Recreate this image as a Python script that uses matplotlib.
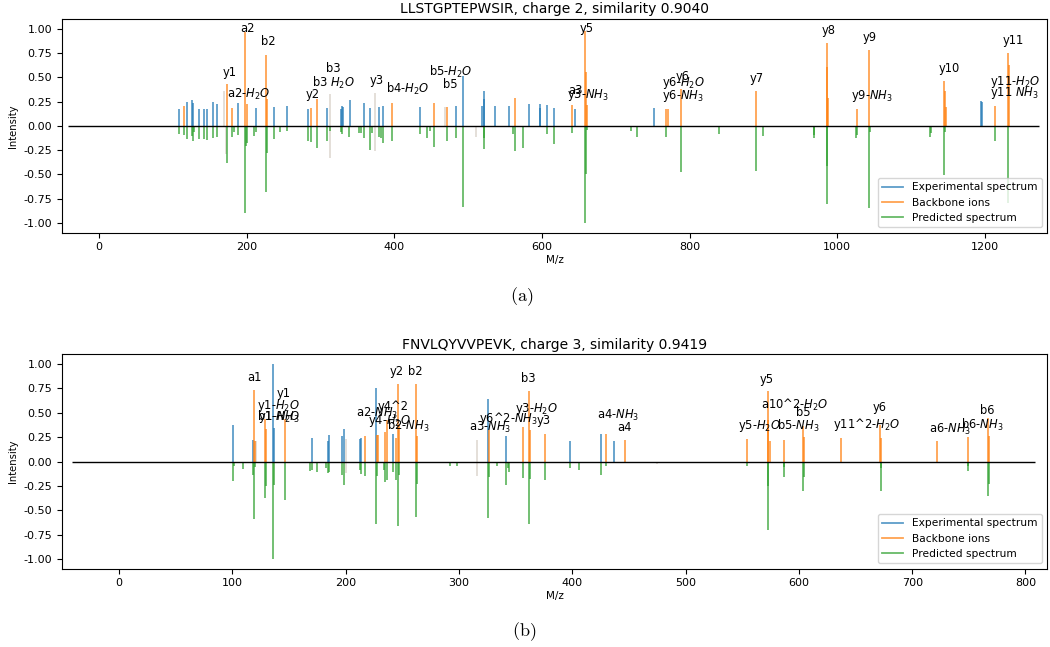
import matplotlib
matplotlib.use("Agg")
import matplotlib.pyplot as plt
from matplotlib.lines import Line2D

# ---------------- Panel (a) data ----------------
title_a = "LLSTGPTEPWSIR, charge 2, similarity 0.9040"
exp_a_mz = [108.3, 119.6, 125.5, 127.7, 135.0, 142.2, 146.2, 154.8, 160.2, 188.2, 212.6, 237.4,
            255.0, 283.0, 309.1, 327.7, 328.6, 330.8, 339.9, 358.8, 366.5, 378.7, 385.0, 434.2,
            483.0, 493.3, 518.6, 520.9, 521.7, 536.2, 555.1, 582.2, 596.7, 598.0, 606.6, 615.7,
            644.5, 752.4, 1195.2, 1196.1]
exp_a_int = [0.175, 0.243, 0.264, 0.233, 0.175, 0.175, 0.175, 0.243, 0.226, 0.237, 0.185, 0.195,
             0.209, 0.175, 0.185, 0.175, 0.206, 0.19, 0.267, 0.237, 0.185, 0.199, 0.209, 0.195,
             0.209, 0.511, 0.209, 0.36, 0.278, 0.209, 0.209, 0.23, 0.23, 0.185, 0.219, 0.185,
             0.175, 0.185, 0.26, 0.243]
bb_a_mz = [115.1, 173.3, 180.1, 197.7, 200.0, 226.6, 227.5, 287.1, 295.6, 396.7, 453.6, 471.2,
           563.3, 641.3, 658.1, 659.0, 660.8, 768.6, 770.4, 787.7, 889.3, 985.4, 986.7, 988.0,
           1026.4, 1043.6, 1144.2, 1145.5, 1146.9, 1213.7, 1231.8, 1233.1]
bb_a_int = [0.209, 0.432, 0.185, 0.970, 0.22, 0.730, 0.28, 0.185, 0.278, 0.237, 0.240, 0.195,
            0.288, 0.219, 0.977, 0.559, 0.219, 0.175, 0.175, 0.384, 0.36, 0.854, 0.61, 0.285,
            0.175, 0.785, 0.463, 0.36, 0.195, 0.209, 0.754, 0.627]
pred_a_mz = [108.3, 115.1, 119.6, 125.5, 127.7, 129.0, 135.0, 142.2, 146.2, 154.8, 160.2, 173.3,
             180.1, 182.8, 188.2, 197.7, 199.5, 201.0, 209.4, 213.0, 226.6, 227.5, 237.4, 245.0,
             255.0, 283.0, 287.1, 295.6, 309.1, 312.5, 327.7, 328.6, 339.0, 351.6, 355.6, 358.8,
             366.5, 369.3, 378.7, 382.0, 385.0, 396.7, 434.2, 444.0, 449.0, 453.6, 471.2, 483.0,
             493.3, 520.9, 521.7, 560.3, 563.3, 573.9, 606.6, 615.7, 641.3, 658.1, 659.0, 660.8,
             720.4, 728.9, 768.6, 787.7, 839.2, 889.3, 899.1, 967.8, 969.1, 985.4, 986.7, 1025.0,
             1026.4, 1043.6, 1044.5, 1126.2, 1127.5, 1144.2, 1145.5, 1213.7, 1231.8]
pred_a_int = [-0.082, -0.093, -0.134, -0.10, -0.154, -0.06, -0.134, -0.134, -0.144, -0.12, -0.11, -0.384,
              -0.11, -0.065, -0.093, -0.898, -0.21, -0.18, -0.10, -0.06, -0.676, -0.28, -0.134, -0.065,
              -0.058, -0.161, -0.168, -0.223, -0.154, -0.058, -0.065, -0.08, -0.11, -0.075, -0.075, -0.12,
              -0.247, -0.075, -0.11, -0.13, -0.18, -0.151, -0.079, -0.127, -0.048, -0.213, -0.151, -0.127,
              -0.837, -0.243, -0.127, -0.082, -0.264, -0.23, -0.086, -0.189, -0.069, -1.0, -0.497, -0.04,
              -0.058, -0.11, -0.11, -0.477, -0.086, -0.46, -0.10, -0.127, -0.09, -0.802, -0.418, -0.127,
              -0.09, -0.847, -0.06, -0.11, -0.07, -0.504, -0.06, -0.154, -0.796]
faint_a_mz = [169.7, 172.0, 313.2, 313.2, 374.1, 374.1, 469.0, 511.2]
faint_a_int = [0.36, -0.29, 0.33, -0.33, 0.34, -0.26, 0.195, -0.113]
lab_a_text = ["a2", "b2", "y1", "a2-$H_2O$", "y2", "b3", "b3 $H_2O$", "y3", "b4-$H_2O$",
              "b5-$H_2O$", "b5", "y5", "a3", "y3-$NH_3$", "y6", "y6-$H_2O$", "y6-$NH_3$", "y7",
              "y8", "y9", "y9-$NH_3$", "y10", "y11", "y11-$H_2O$", "y11 $NH_3$"]
lab_a_x = [201.3, 229.3, 176.5, 202.2, 288.9, 317.3, 317.3, 376.9, 418.9,
           476.6, 475.3, 661.2, 646.0, 662.6, 790.0, 791.2, 791.2, 890.5,
           988.9, 1043.9, 1047.0, 1152.3, 1238.0, 1240.4, 1240.4]
lab_a_y = [1.005, 0.867, 0.552, 0.326, 0.319, 0.586, 0.44, 0.466, 0.377,
           0.559, 0.429, 0.998, 0.36, 0.32, 0.508, 0.44, 0.312, 0.49,
           0.98, 0.912, 0.312, 0.593, 0.878, 0.456, 0.343]
zero_a = (-42, 1273)
xlim_a = (-50, 1284)
xticks_a = [0, 200, 400, 600, 800, 1000, 1200]

# ---------------- Panel (b) data ----------------
title_b = "FNVLQYVVPEVK, charge 3, similarity 0.9419"
exp_b_mz = [100.3, 118.5, 135.9, 136.8, 170.3, 184.7, 185.3, 196.8, 198.5, 212.6, 213.8, 226.8,
            241.5, 325.9, 341.5, 397.7, 425.0, 436.5]
exp_b_int = [0.377, 0.223, 1.0, 0.343, 0.24, 0.213, 0.27, 0.264, 0.333, 0.23, 0.243, 0.754,
             0.281, 0.641, 0.264, 0.213, 0.281, 0.213]
bb_b_mz = [119.4, 120.0, 128.5, 129.7, 146.5, 217.0, 227.4, 228.2, 234.7, 236.2, 244.1, 245.9,
           246.8, 261.8, 262.6, 326.8, 356.8, 361.8, 362.6, 375.9, 429.7, 446.5, 553.9, 572.9,
           573.2, 574.1, 586.5, 603.8, 604.4, 636.8, 671.5, 672.1, 721.5, 749.7, 767.1, 768.0]
bb_b_int = [0.737, 0.206, 0.435, 0.333, 0.435, 0.264, 0.27, 0.27, 0.302, 0.429, 0.24, 0.799,
            0.377, 0.799, 0.264, 0.326, 0.353, 0.727, 0.326, 0.281, 0.281, 0.223, 0.23, 0.727,
            0.429, 0.206, 0.223, 0.36, 0.25, 0.24, 0.378, 0.24, 0.213, 0.25, 0.446, 0.264]
pred_b_mz = [100.3, 101.5, 109.4, 118.5, 119.4, 120.3, 128.5, 129.7, 135.9, 136.8, 146.5, 168.2,
             170.3, 174.7, 182.4, 184.7, 185.3, 196.8, 198.5, 212.6, 213.8, 217.0, 226.8, 227.4,
             233.8, 234.7, 236.2, 241.5, 244.1, 245.9, 246.8, 261.8, 262.6, 292.0, 298.0, 325.9,
             326.8, 333.2, 341.5, 343.0, 344.4, 356.8, 361.8, 362.6, 375.9, 397.7, 405.9, 425.0,
             429.7, 553.9, 572.9, 573.2, 586.5, 587.3, 603.8, 604.4, 672.1, 672.9, 748.9, 749.7,
             767.1, 768.0]
pred_b_int = [-0.195, -0.05, -0.079, -0.137, -0.59, -0.06, -0.37, -0.247, -1.0, -0.24, -0.394, -0.1,
              -0.086, -0.103, -0.062, -0.12, -0.11, -0.137, -0.24, -0.086, -0.127, -0.147, -0.641, -0.147,
              -0.086, -0.209, -0.189, -0.103, -0.189, -0.662, -0.137, -0.566, -0.233, -0.05, -0.05, -0.576,
              -0.154, -0.05, -0.24, -0.07, -0.103, -0.165, -0.645, -0.178, -0.189, -0.062, -0.086, -0.137,
              -0.05, -0.05, -0.703, -0.25, -0.154, -0.06, -0.298, -0.154, -0.298, -0.07, -0.05, -0.093,
              -0.35, -0.233]
faint_b_mz = [120.6, 200.3, 200.3, 315.7, 315.7, 474.7]
faint_b_int = [0.21, 0.23, -0.12, 0.223, -0.15, -0.03]
lab_b_text = ["a1", "y1", "y1-$H_2O$", "b1-$H_2O$", "y1-$NH_3$", "a2-$NH_3$", "y4^2", "y4-$H_2O$",
              "b2-$NH_3$", "y2", "b2", "b3", "y3-$H_2O$", "y6^2-$NH_3$", "y3", "a3-$NH_3$",
              "a4-$NH_3$", "a4", "y5", "a10^2-$H_2O$", "b5", "y5-$H_2O$", "b5-$NH_3$",
              "y11^2-$H_2O$", "y6", "a6-$NH_3$", "b6-$NH_3$", "b6"]
lab_b_x = [119.1, 145.6, 140.6, 140.6, 141.5, 227.4, 242.0, 239.1,
           255.3, 245.0, 261.8, 361.2, 368.6, 343.5, 374.4, 327.4,
           440.6, 445.9, 571.5, 596.5, 603.8, 565.6, 599.4,
           659.7, 671.5, 733.2, 762.1, 766.2]
lab_b_y = [0.864, 0.693, 0.573, 0.453, 0.46, 0.498, 0.56, 0.412,
           0.367, 0.926, 0.926, 0.851, 0.542, 0.446, 0.422, 0.35,
           0.47, 0.344, 0.84, 0.583, 0.498, 0.36, 0.36,
           0.378, 0.549, 0.333, 0.378, 0.525]
zero_b = (-41.5, 808)
xlim_b = (-50.3, 819)
xticks_b = [0, 100, 200, 300, 400, 500, 600, 700, 800]

yticks = [-1.0, -0.75, -0.5, -0.25, 0.0, 0.25, 0.5, 0.75, 1.0]
legend_labels = ["Experimental spectrum", "Backbone ions", "Predicted spectrum"]
captions = ["(a)", "(b)"]

C_EXP, C_BB, C_PRED, C_FAINT = "#1f77b4", "#ff7f0e", "#2ca02c", "#e2dcd6"
FS_TICK = 8.0
FS_LAB = 8.3
FS_LEG = 7.7
LW = 1.3
ALPHA = 0.72

fig = plt.figure(figsize=(10.5, 6.47), dpi=100)
ax_a = fig.add_axes([62 / 1050, 1 - 232.7 / 647, (1047 - 62) / 1050, (232.7 - 19) / 647])
ax_b = fig.add_axes([62 / 1050, 1 - 568.7 / 647, (1047 - 62) / 1050, (568.7 - 354.3) / 647])


def draw(ax, title, exp_mz, exp_int, bb_mz, bb_int, pred_mz, pred_int, f_mz, f_int,
         lt, lx, ly, zero, xlim, xticks):
    ax.vlines(f_mz, 0, f_int, colors=C_FAINT, lw=LW)
    ax.vlines(exp_mz, 0, exp_int, colors=C_EXP, lw=LW, alpha=ALPHA)
    ax.vlines(bb_mz, 0, bb_int, colors=C_BB, lw=LW, alpha=ALPHA)
    ax.vlines(pred_mz, 0, pred_int, colors=C_PRED, lw=LW, alpha=ALPHA)
    ax.hlines(0, zero[0], zero[1], colors="black", lw=1.0)
    for t, x, y in zip(lt, lx, ly):
        ax.text(x, y, t, ha="center", va="center", fontsize=FS_LAB)
    ax.set_xlim(*xlim)
    ax.set_ylim(-1.1, 1.1)
    ax.set_xticks(xticks)
    ax.set_yticks(yticks)
    ax.set_yticklabels([f"{v:.2f}" for v in yticks])
    ax.tick_params(labelsize=FS_TICK, length=3.5, width=0.8)
    ax.set_title(title, fontsize=10, pad=4)
    ax.set_xlabel("M/z", fontsize=7.5, labelpad=2)
    ax.set_ylabel("Intensity", fontsize=7.2, labelpad=4)
    handles = [Line2D([], [], color=c, lw=LW, alpha=ALPHA) for c in (C_EXP, C_BB, C_PRED)]
    ax.legend(handles, legend_labels, loc="lower right", fontsize=FS_LEG)


draw(ax_a, title_a, exp_a_mz, exp_a_int, bb_a_mz, bb_a_int, pred_a_mz, pred_a_int,
     faint_a_mz, faint_a_int, lab_a_text, lab_a_x, lab_a_y, zero_a, xlim_a, xticks_a)
draw(ax_b, title_b, exp_b_mz, exp_b_int, bb_b_mz, bb_b_int, pred_b_mz, pred_b_int,
     faint_b_mz, faint_b_int, lab_b_text, lab_b_x, lab_b_y, zero_b, xlim_b, xticks_b)

fig.text(0.497, 1 - 297 / 647, r"$\mathrm{" + captions[0] + "}$", ha="center", va="center",
         fontsize=13, math_fontfamily="cm")
fig.text(0.499, 1 - 632 / 647, r"$\mathrm{" + captions[1] + "}$", ha="center", va="center",
         fontsize=13, math_fontfamily="cm")

fig.savefig("out.png", dpi=100)
